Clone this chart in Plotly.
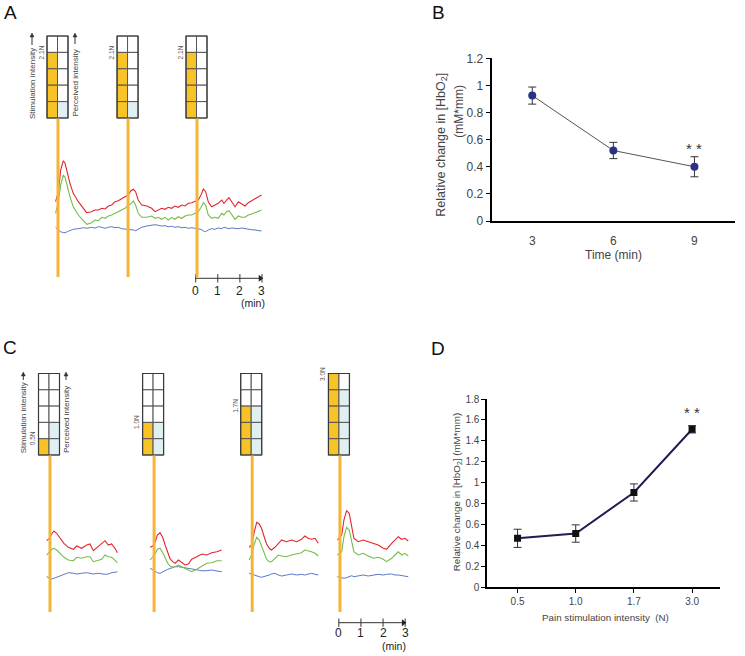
import plotly.graph_objects as go

W, H = 745, 656
FONT = "Liberation Sans, Arial, sans-serif"

# ---------------- DATA ----------------
# Panel B: relative change in [HbO2] vs time
b_time = [3, 6, 9]
b_mean = [0.925, 0.52, 0.40]
b_err = [0.063, 0.06, 0.074]

# Panel D: relative change vs pain stimulation intensity
d_cats = ["0.5", "1.0", "1.7", "3.0"]
d_mean = [0.466, 0.512, 0.905, 1.51]
d_err = [0.087, 0.083, 0.082, 0.035]

# Panel A: repeated 2.1N stimulation (continuous recording, minutes)
a_stim_label = ["2.1N", "2.1N", "2.1N"]
a_stim_level = [4, 4, 4]
a_perc_level = [1, 1, 0]
a_stim_time = [0.0, 3.17, 6.29]
a_t = [-0.11, -0.06, 0.02, 0.12, 0.24, 0.32, 0.42, 0.54, 0.69, 0.92,
       1.15, 1.30, 1.52, 1.67, 1.83, 1.98, 2.13, 2.28, 2.43, 2.58,
       2.73, 2.88, 3.03, 3.18, 3.29, 3.41, 3.51, 3.63, 3.79, 4.01,
       4.24, 4.39, 4.54, 4.69, 4.84, 4.99, 5.14, 5.29, 5.44, 5.60,
       5.75, 5.90, 6.05, 6.20, 6.35, 6.47, 6.58, 6.68, 6.80, 6.95,
       7.10, 7.25, 7.41, 7.51, 7.63, 7.74, 7.86, 8.01, 8.16, 8.31,
       8.46, 8.61, 8.76, 8.91, 9.06, 9.21]
a_red = [3.83, 4.33, 4.83, 7.0, 7.93, 7.67, 6.67, 5.67, 4.67, 3.83,
         3.17, 2.73, 2.83, 3.0, 3.0, 3.17, 3.1, 3.4, 3.5, 3.83,
         3.93, 4.17, 4.33, 4.5, 4.9, 5.07, 4.83, 4.0, 3.5, 3.4,
         3.17, 2.83, 3.0, 3.17, 3.07, 3.27, 3.17, 3.4, 3.27, 3.5,
         3.4, 3.67, 3.73, 3.83, 4.0, 4.5, 5.1, 4.83, 3.83, 3.33,
         3.5, 3.67, 4.0, 3.67, 4.0, 4.23, 3.83, 3.33, 3.83, 3.6,
         3.4, 3.73, 3.93, 4.17, 4.33, 4.5]
a_green = [2.67, 3.17, 3.83, 5.5, 6.5, 6.27, 5.33, 4.33, 3.33, 2.5,
           1.93, 1.57, 1.73, 2.0, 1.93, 2.27, 2.17, 2.4, 2.5, 2.67,
           2.83, 3.0, 3.17, 3.5, 3.6, 3.9, 3.5, 2.67, 2.27, 2.27,
           2.4, 2.17, 2.27, 2.07, 2.27, 2.0, 2.27, 2.07, 2.33, 2.17,
           2.4, 2.5, 2.5, 2.67, 2.83, 3.27, 3.73, 3.5, 2.5, 2.17,
           2.27, 2.17, 2.67, 2.5, 2.83, 2.93, 2.5, 2.07, 2.4, 2.27,
           2.27, 2.5, 2.6, 2.73, 2.83, 3.0]
a_blue = [1.27, 1.17, 1.07, 0.83, 0.73, 0.73, 0.83, 0.93, 1.07, 1.13,
          1.23, 1.17, 1.27, 1.2, 1.33, 1.27, 1.17, 1.27, 1.33, 1.23,
          1.27, 1.13, 1.1, 1.1, 1.07, 1.0, 0.93, 1.07, 1.27, 1.4,
          1.5, 1.53, 1.47, 1.4, 1.43, 1.33, 1.37, 1.27, 1.33, 1.23,
          1.27, 1.17, 1.23, 1.17, 1.13, 1.07, 0.9, 0.83, 1.0, 1.13,
          1.07, 1.2, 1.13, 1.27, 1.2, 1.13, 1.2, 1.13, 1.13, 1.2,
          1.13, 1.07, 1.03, 1.0, 0.97, 0.9]

# Panel C: increasing stimulation intensity (time relative to stimulus, min)
c_stim_label = ["0.5N", "1.0N", "1.7N", "3.0N"]
c_stim_level = [1, 2, 3, 5]
c_perc_level = [2, 2, 3, 4]

c1_t = [-0.15, -0.03, 0.08, 0.18, 0.30, 0.45, 0.63, 0.83, 1.06, 1.21, 1.43,
        1.66, 1.81, 1.96, 2.19, 2.34, 2.49, 2.64, 2.79, 2.94, 3.05]
c1_red = [3.93, 4.17, 4.6, 4.9, 4.67, 4.17, 3.67, 3.27, 3.07, 3.4, 3.17,
          3.5, 3.6, 2.93, 3.4, 3.67, 3.93, 3.5, 3.6, 3.17, 2.73]
c1_green = [2.5, 2.83, 3.07, 3.17, 3.0, 2.67, 2.27, 2.0, 1.93, 2.27, 2.17,
            2.33, 2.33, 1.83, 1.93, 2.07, 2.5, 2.33, 2.27, 2.0, 1.73]
c1_blue = [0.33, 0.2, 0.1, 0.17, 0.27, 0.4, 0.57, 0.73, 0.67, 0.6, 0.67,
           0.73, 0.67, 0.6, 0.67, 0.6, 0.57, 0.6, 0.73, 0.77, 0.83]

c2_t = [-0.18, -0.06, 0.05, 0.15, 0.27, 0.39, 0.50, 0.62, 0.72, 0.84, 0.95,
        1.10, 1.25, 1.40, 1.55, 1.70, 1.93, 2.16, 2.38, 2.61, 2.84, 3.06]
c2_red = [3.27, 3.4, 3.83, 4.5, 4.73, 4.27, 3.5, 2.67, 2.13, 1.83, 1.67,
          2.0, 1.73, 1.5, 1.6, 2.07, 2.33, 2.6, 2.5, 2.73, 2.83, 3.0]
c2_green = [2.0, 2.27, 2.6, 3.07, 3.17, 2.73, 2.17, 1.67, 1.4, 1.27, 1.33,
            1.5, 1.33, 1.17, 1.0, 0.83, 1.07, 1.4, 1.67, 1.73, 1.93, 1.93]
c2_blue = [1.17, 1.0, 0.83, 0.73, 0.67, 0.77, 0.93, 1.07, 1.17, 1.27, 1.33,
           1.33, 1.27, 1.2, 1.17, 1.13, 1.0, 0.93, 0.93, 1.0, 0.9, 0.83]

c3_t = [-0.14, -0.03, 0.08, 0.20, 0.32, 0.42, 0.53, 0.65, 0.77, 0.87, 1.03,
        1.18, 1.33, 1.55, 1.78, 2.01, 2.23, 2.38, 2.53, 2.68, 2.84, 2.99]
c3_red = [3.27, 3.5, 4.67, 5.77, 5.6, 5.17, 4.4, 3.6, 3.17, 3.0, 3.27,
          3.67, 4.0, 3.83, 4.0, 3.83, 4.07, 4.4, 4.17, 4.07, 4.17, 3.67]
c3_green = [2.0, 2.5, 3.5, 4.27, 4.0, 3.4, 2.67, 2.07, 1.83, 1.83, 2.17,
            2.5, 2.4, 2.33, 2.5, 2.6, 2.73, 3.0, 2.93, 2.83, 2.67, 2.4]
c3_blue = [0.67, 0.57, 0.5, 0.4, 0.33, 0.27, 0.33, 0.43, 0.5, 0.6, 0.67,
           0.5, 0.4, 0.5, 0.6, 0.5, 0.57, 0.5, 0.6, 0.67, 0.57, 0.5]

c4_t = [-0.12, 0.08, 0.18, 0.30, 0.42, 0.53, 0.63, 0.83, 1.05, 1.28,
        1.51, 1.73, 1.96, 2.11, 2.34, 2.49, 2.64, 2.79, 2.94, 3.09]
c4_red = [4.0, 4.5, 6.0, 6.93, 6.67, 5.33, 4.17, 3.83, 4.0, 3.83,
          3.67, 3.5, 3.17, 3.07, 3.67, 4.0, 4.33, 4.07, 4.17, 3.9]
c4_green = [2.5, 2.83, 4.33, 5.27, 5.0, 3.83, 2.83, 2.5, 2.67, 2.4,
            2.17, 2.27, 2.07, 1.83, 2.17, 2.5, 2.83, 2.5, 2.67, 2.4]
c4_blue = [0.33, 0.27, 0.17, 0.23, 0.33, 0.43, 0.33, 0.4, 0.5, 0.4,
           0.5, 0.57, 0.5, 0.57, 0.6, 0.5, 0.5, 0.43, 0.4, 0.33]

c_segments = [
    (c1_t, c1_red, c1_green, c1_blue),
    (c2_t, c2_red, c2_green, c2_blue),
    (c3_t, c3_red, c3_green, c3_blue),
    (c4_t, c4_red, c4_green, c4_blue),
]
c_seg_offset = [0.0, 4.71, 9.15, 13.12]  # display position of each stimulus

# ---------------- STYLE / LAYOUT CONSTANTS ----------------
RED, GREEN, BLUE = "#e2262d", "#74bd47", "#4b67c2"
ORANGE, YELLOW, LBLUE = "#f5b435", "#f7c326", "#e0eff2"
PPM = 22.1          # pixels per minute for trace panels
VPX = 10.0          # pixels per signal unit

A_XPX, A_YPX, A_ORG, A_BASE = (40.0, 275.0), (130.0, 300.0), 58.0, 240.0
C_XPX, C_YPX, C_ORG, C_BASE = (30.0, 420.0), (470.0, 640.0), 50.0, 580.0
B_XPX, B_YPX = (491.7, 735.0), (58.3, 221.0)
D_XPX, D_YPX = (487.3, 720.0), (399.0, 587.0)


def pxx(x):
    return x / W


def pxy(y):
    return 1 - y / H


fig = go.Figure()
shapes, annos = [], []


def ann(**kw):
    d = dict(showarrow=False, xanchor="center", yanchor="middle", xref="paper", yref="paper")
    d.update(kw)
    annos.append(d)


def trace_line(x, y, color, width, xa, ya):
    fig.add_trace(go.Scatter(x=x, y=y, mode="lines", xaxis=xa, yaxis=ya,
                             line=dict(color=color, width=width),
                             hoverinfo="skip", showlegend=False))


# ---- Panel A traces
trace_line(a_t, a_blue, BLUE, 0.9, "x3", "y3")
trace_line(a_t, a_green, GREEN, 1.1, "x3", "y3")
trace_line(a_t, a_red, RED, 1.1, "x3", "y3")

# ---- Panel C traces
for off, (t, r, g, b) in zip(c_seg_offset, c_segments):
    xs = [off + v for v in t]
    trace_line(xs, b, BLUE, 0.9, "x4", "y4")
    trace_line(xs, g, GREEN, 1.1, "x4", "y4")
    trace_line(xs, r, RED, 1.1, "x4", "y4")


# ---- Scale bars
def scale_bar(xa, ya, x0, y0, lab_shift, min_dx, min_shift):
    fig.add_trace(go.Scatter(x=[x0 + i for i in range(4)], y=[y0] * 4, mode="lines+markers",
                             xaxis=xa, yaxis=ya, line=dict(color="#333", width=1),
                             marker=dict(symbol="line-ns", size=6, line=dict(color="#333", width=1)),
                             hoverinfo="skip", showlegend=False))
    fig.add_trace(go.Scatter(x=[x0 + 2.92], y=[y0], mode="markers", xaxis=xa, yaxis=ya,
                             marker=dict(symbol="triangle-right", size=6, color="#222"),
                             hoverinfo="skip", showlegend=False))
    for i in range(4):
        ann(x=x0 + i, y=y0, xref=xa, yref=ya, text=str(i), yshift=-lab_shift,
            font=dict(size=12, color="#222"))
    ann(x=x0 + min_dx, y=y0, xref=xa, yref=ya, text="(min)", yshift=-min_shift,
        font=dict(size=10.5, color="#222"))


scale_bar("x3", "y3", a_stim_time[2] - 0.06, (A_BASE - 278.3) / VPX, 12.5, 2.6, 25)
scale_bar("x4", "y4", c_seg_offset[3] - 0.05, (C_BASE - 622.7) / VPX, 10.5, 2.5, 23)


# ---- Stimulus boxes + bars
def stim_box(cx, top, row, stim, perc, label, bar_bottom, xa, tdata):
    half = 10.5
    left = cx - half
    bottom = top + 5 * row
    for c in range(2):
        for rr in range(5):
            y0 = top + rr * row
            level_from_bottom = 5 - rr
            fill = "white"
            if c == 0 and level_from_bottom <= stim:
                fill = YELLOW
            if c == 1 and level_from_bottom <= perc:
                fill = LBLUE
            shapes.append(dict(type="rect", xref="paper", yref="paper",
                               x0=pxx(left + c * half), x1=pxx(left + (c + 1) * half),
                               y0=pxy(y0 + row), y1=pxy(y0), fillcolor=fill,
                               line=dict(color="#555", width=1), layer="above"))
    shapes.append(dict(type="rect", xref="paper", yref="paper", x0=pxx(left), x1=pxx(left + 2 * half),
                       y0=pxy(bottom), y1=pxy(top), line=dict(color="#3a3a3a", width=1.2), layer="above"))
    shapes.append(dict(type="line", xref=xa, yref="paper", x0=tdata, x1=tdata,
                       y0=pxy(bottom + 0.5), y1=pxy(bar_bottom),
                       line=dict(color=ORANGE, width=3), layer="above"))
    ann(x=pxx(left - 6), y=pxy(bottom - stim * row), text=label, textangle=-90,
        font=dict(size=6.5, color="#555"))


for i, ts in enumerate(a_stim_time):
    cx = A_ORG + ts * PPM - 0.5
    stim_box(cx, 36.0, 16.4, a_stim_level[i], a_perc_level[i], a_stim_label[i], 277.0, "x3", ts)

for i, ts in enumerate(c_seg_offset):
    cx = C_ORG + ts * PPM - 1.0
    stim_box(cx, 373.5, 16.3, c_stim_level[i], c_perc_level[i], c_stim_label[i], 612.0, "x4", ts)


def side_label(x, yc, text, ahead, atail):
    ann(x=pxx(x), y=pxy(yc), text=text, textangle=-90, font=dict(size=8, color="#444"))
    shapes.append(dict(type="line", xref="paper", yref="paper", x0=pxx(x), x1=pxx(x),
                       y0=pxy(atail), y1=pxy(ahead + 3), line=dict(color="#333", width=1)))
    shapes.append(dict(type="path", xref="paper", yref="paper", fillcolor="#333",
                       line=dict(color="#333", width=0.5),
                       path="M {:.5f},{:.5f} L {:.5f},{:.5f} L {:.5f},{:.5f} Z".format(
                           pxx(x), pxy(ahead), pxx(x - 2), pxy(ahead + 4), pxx(x + 2), pxy(ahead + 4))))


side_label(32.0, 84.0, "Stimulation intensity", 33.0, 45.0)
side_label(75.0, 83.5, "Perceived intensity", 33.0, 44.0)
side_label(23.3, 418.0, "Stimulation intensity", 372.0, 380.0)
side_label(66.0, 420.0, "Perceived intensity", 372.0, 380.0)

# ---- Panel B
fig.add_trace(go.Scatter(x=b_time, y=b_mean, mode="lines+markers", xaxis="x", yaxis="y",
                         line=dict(color="#555", width=1),
                         marker=dict(symbol="circle", size=8, color="#2b3184"),
                         error_y=dict(type="data", array=b_err, color="#333", thickness=1, width=4),
                         hoverinfo="skip", showlegend=False))
ann(x=b_time[2], y=b_mean[2] + b_err[2], xref="x", yref="y", text="* *", yshift=8,
    font=dict(size=15, color="#333"))

# ---- Panel D
fig.add_trace(go.Scatter(x=d_cats, y=d_mean, mode="lines+markers", xaxis="x2", yaxis="y2",
                         line=dict(color="#1f1f55", width=2),
                         marker=dict(symbol="square", size=7, color="#111"),
                         error_y=dict(type="data", array=d_err, color="#333", thickness=1, width=4),
                         hoverinfo="skip", showlegend=False))
ann(x=d_cats[3], y=d_mean[3] + d_err[3], xref="x2", yref="y2", text="* *", yshift=13,
    font=dict(size=15, color="#333"))

# ---- axis titles & panel letters
ann(x=pxx(613), y=pxy(255), text="Time (min)", font=dict(size=12, color="#444"))
ann(x=pxx(441.7), y=pxy(145), text="Relative change in [HbO<sub>2</sub>]", textangle=-90,
    font=dict(size=12.5, color="#444"))
ann(x=pxx(459), y=pxy(111.7), text="(mM*mm)", textangle=-90, font=dict(size=12, color="#444"))
ann(x=pxx(605), y=pxy(617.7), text="Pain stimulation intensity  (N)", font=dict(size=9.8, color="#444"))
ann(x=pxx(457.3), y=pxy(492), text="Relative change in [HbO<sub>2</sub>] (mM*mm)", textangle=-90,
    font=dict(size=9.8, color="#444"))
for letter, (lx, ly) in {"A": (10, 13), "B": (438, 12), "C": (10, 347), "D": (438, 348)}.items():
    ann(x=pxx(lx), y=pxy(ly), text=letter, font=dict(size=19, color="#111"))

axis_common = dict(showgrid=False, zeroline=False, showline=True, linecolor="black", linewidth=2,
                   automargin=False)
hidden = dict(visible=False, automargin=False, showgrid=False, zeroline=False)

fig.update_layout(
    width=W, height=H, margin=dict(l=0, r=0, t=0, b=0, pad=0), autosize=False,
    paper_bgcolor="white", plot_bgcolor="white", showlegend=False,
    font=dict(family=FONT, color="#333"),
    xaxis=dict(domain=[pxx(B_XPX[0]), pxx(B_XPX[1])], range=[1.5, 10.5], tickvals=b_time,
               ticks="outside", ticklen=8, tickcolor="rgba(0,0,0,0)",
               tickfont=dict(size=12, color="#444"), anchor="y", **axis_common),
    yaxis=dict(domain=[pxy(B_YPX[1]), pxy(B_YPX[0])], range=[0, 1.2], tick0=0, dtick=0.2,
               ticks="outside", ticklen=4, tickwidth=1, tickcolor="black",
               tickfont=dict(size=12, color="#444"), anchor="x", **axis_common),
    xaxis2=dict(domain=[pxx(D_XPX[0]), pxx(D_XPX[1])], type="category", range=[-0.52, 3.48],
                ticks="outside", ticklen=4, tickwidth=1, tickcolor="black",
                tickfont=dict(size=10, color="#444"), anchor="y2", **axis_common),
    yaxis2=dict(domain=[pxy(D_YPX[1]), pxy(D_YPX[0])], range=[0, 1.8], tick0=0, dtick=0.2,
                ticks="outside", ticklen=4, tickwidth=1, tickcolor="black",
                tickfont=dict(size=10, color="#444"), anchor="x2", **axis_common),
    xaxis3=dict(domain=[pxx(A_XPX[0]), pxx(A_XPX[1])],
                range=[(A_XPX[0] - A_ORG) / PPM, (A_XPX[1] - A_ORG) / PPM], anchor="y3", **hidden),
    yaxis3=dict(domain=[pxy(A_YPX[1]), pxy(A_YPX[0])],
                range=[(A_BASE - A_YPX[1]) / VPX, (A_BASE - A_YPX[0]) / VPX], anchor="x3", **hidden),
    xaxis4=dict(domain=[pxx(C_XPX[0]), pxx(C_XPX[1])],
                range=[(C_XPX[0] - C_ORG) / PPM, (C_XPX[1] - C_ORG) / PPM], anchor="y4", **hidden),
    yaxis4=dict(domain=[pxy(C_YPX[1]), pxy(C_YPX[0])],
                range=[(C_BASE - C_YPX[1]) / VPX, (C_BASE - C_YPX[0]) / VPX], anchor="x4", **hidden),
    shapes=shapes, annotations=annos,
)

fig.write_html("out.html", config={"displayModeBar": False},
               post_script="document.body.style.margin='0px';document.body.style.padding='0px';")
